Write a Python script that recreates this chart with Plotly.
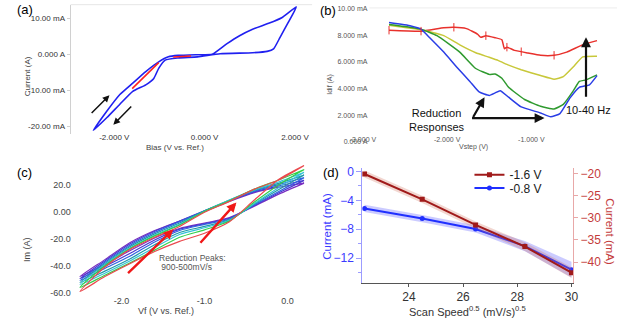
import plotly.graph_objects as go

W, H = 625, 321
def px(x): return x / W
def py(y): return 1 - y / H

FONT = "Liberation Sans, Arial, sans-serif"

# ---------------- panel (a) data: cyclic voltammogram ----------------
a_bias = [0.166, 0.488, 0.774, 1.062, 1.419, 1.708, 2.03, 1.849, 1.671, 1.527, 1.385, 1.062, 0.344,
          -0.157, -0.587, -0.873, -1.017, -1.125, -1.303, -1.591, -1.877, -2.163, -2.465,
          -2.163, -1.877, -1.591, -1.303, -1.017, -0.802, -0.587, -0.157, 0.166]
a_current = [0, 2.9, 5.19, 7.0, 8.63, 10.19, 13.2, 8.83, 4.73, 1.53, 0.82, 0.44, 0.16,
             -0.7, -1.0, -1.6, -3.9, -6.7, -8.5, -10.3, -13.9, -17.6, -21.2,
             -15.8, -11.2, -8.0, -4.8, -2.1, -0.7, -0.3, -0.1, 0]
a_red_bias = [-1.604, -1.31, -1.017, None, -0.695, -0.5, -0.30]
a_red_current = [-9.56, -5.9, -2.3, None, -0.74, -0.6, -0.46]
a_xticks = [-2, 0, 2]
a_xtext = ["-2.000 V", "0.000 V", "2.000 V"]
a_yticks = [10, 0, -10, -20]
a_ytext = ["10.00 mA", "0.000 A", "-10.00 mA", "-20.00 mA"]

# ---------------- panel (b) data: differential current ----------------
b_red_v = [-2.69, -2.31, -2.04, -1.92, -1.77, -1.64, -1.60, -1.54, -1.43, -1.35, -1.32, -1.29, -1.20, -1.04, -0.89, -0.73, -0.58, -0.39, -0.22]
b_red_i = [8.38, 8.31, 8.56, 8.6, 8.5, 8.09, 7.85, 7.97, 7.82, 7.67, 6.99, 7.11, 6.87, 6.67, 6.5, 6.5, 6.74, 7.28, 7.6]
b_red_mark_v = [-2.69, -2.31, -1.92, -1.54, -1.29, -1.12, -0.73]
b_red_mark_i = [8.38, 8.31, 8.6, 7.97, 7.11, 6.77, 6.5]
b_yel_v = [-2.69, -2.31, -2.04, -1.85, -1.66, -1.50, -1.39, -1.27, -1.12, -0.89, -0.73, -0.62, -0.50, -0.39, -0.22]
b_yel_i = [8.75, 8.41, 7.97, 7.28, 6.69, 6.35, 6.1, 5.76, 5.42, 4.98, 4.71, 4.9, 5.64, 6.38, 6.43]
b_grn_v = [-2.69, -2.31, -2.12, -1.85, -1.66, -1.50, -1.43, -1.35, -1.27, -1.08, -0.89, -0.73, -0.62, -0.50, -0.43, -0.35, -0.22]
b_grn_i = [8.8, 8.46, 7.97, 6.74, 5.51, 5.07, 5.1, 4.78, 4.1, 3.19, 2.68, 2.48, 2.82, 3.85, 4.54, 4.66, 5.03]
b_blu_v = [-2.69, -2.43, -2.31, -2.20, -2.04, -1.89, -1.73, -1.62, -1.50, -1.43, -1.37, -1.27, -1.12, -0.89, -0.77, -0.66, -0.54, -0.43, -0.31, -0.22]
b_blu_i = [8.95, 8.7, 8.46, 7.77, 6.74, 5.64, 4.54, 3.75, 3.49, 3.68, 3.85, 3.36, 2.63, 2.18, 1.89, 2.13, 3.31, 4.1, 4.29, 4.98]
b_xticks = [-3, -2, -1, 0]
b_xtext = ["-3.000 V", "-2.000 V", "-1.000 V", "0.000 V"]
b_yticks = [0, 2, 4, 6, 8, 10]
b_ytext = ["0.000 A", "2.000 mA", "4.000 mA", "6.000 mA", "8.000 mA", "10.00 mA"]

# ---------------- panel (c) data: scan-rate CV loops ----------------
c_vf = [-2.5, -2.2, -1.9, -1.6, -1.3, -1.0, -0.7, -0.4, -0.1, 0.2]
c_names = ["purple", "violet", "blue", "teal", "cyan", "green", "red"]
c_colors = ["#7a2fc0", "#4a3ad0", "#2f62e0", "#1f9aa8", "#35c2d8", "#33d04a", "#ea4a4e"]
c_upper = [
    [-48, -35.5, -23, -14, -7, 0, 7.5, 14, 18, 21],
    [-49.5, -36.5, -24, -14.5, -7, 0.5, 8, 14.5, 19, 23],
    [-51, -37.5, -25, -15.5, -7.5, 0.5, 8, 15, 20, 25],
    [-52.5, -38.5, -26, -16.5, -8.5, 0.5, 8.5, 15.5, 21, 27],
    [-54, -39, -27, -17.5, -9.5, 0, 8.5, 16, 22, 29],
    [-56, -40, -27.5, -18, -10, 0, 8, 16.5, 23.5, 31],
    [-59, -41, -28, -19, -11, -0.5, 7.5, 16.5, 23.5, 34],
]
c_lower = [
    [-48, -39, -29, -19.5, -12.5, -8.5, -4.5, 4, 13, 21],
    [-49.5, -40.5, -31, -21, -13, -9, -5, 4.5, 14, 23],
    [-51, -42, -33, -22.5, -14, -9.5, -5.5, 5, 15, 25],
    [-52.5, -44, -35, -24.5, -15.5, -11, -6, 5.5, 16.5, 27],
    [-54, -45.5, -36.5, -26.5, -17, -12, -6.5, 6, 18, 29],
    [-56, -47, -38, -28.5, -19, -13.5, -7, 7, 20, 31],
    [-59, -48, -38.5, -29.5, -22, -16, -7.5, 8.5, 24, 34],
]
c_xticks = [-2, -1, 0]
c_xtext = ["-2.0", "-1.0", "0.0"]
c_yticks = [20, 0, -20, -40, -60]
c_ytext = ["20.0", "0.00", "-20.0", "-40.0", "-60.0"]

# ---------------- panel (d) data: peak current vs sqrt(scan speed) ----------------
d_speed = [22.36, 24.49, 26.46, 28.28, 30.0]
d_cur_08 = [-5.11, -6.52, -7.96, -10.33, -13.59]
d_err_08 = [0.5, 0.5, 0.5, 0.7, 1.1]
d_cur_16 = [-20.07, -25.8, -31.6, -36.5, -42.4]
d_err_16 = [0.8, 0.8, 0.8, 1.0, 1.2]

fig = go.Figure()

# (a)
fig.add_trace(go.Scatter(x=a_bias, y=a_current, mode="lines", xaxis="x", yaxis="y",
                         line=dict(color="#2020f0", width=1.6, shape="spline", smoothing=0.5),
                         showlegend=False, hoverinfo="skip"))
fig.add_trace(go.Scatter(x=a_red_bias, y=a_red_current, mode="lines", xaxis="x", yaxis="y",
                         line=dict(color="#ff2020", width=1.6), showlegend=False, hoverinfo="skip"))

# (b)
for vx, iy, col in [(b_red_v, b_red_i, "#e8312c"), (b_yel_v, b_yel_i, "#c8c83a"),
                    (b_grn_v, b_grn_i, "#2f9a2f"), (b_blu_v, b_blu_i, "#2a3ee6")]:
    fig.add_trace(go.Scatter(x=vx, y=iy, mode="lines", xaxis="x2", yaxis="y2",
                             line=dict(color=col, width=1.5, shape="spline", smoothing=0.4),
                             showlegend=False, hoverinfo="skip"))
fig.add_trace(go.Scatter(x=b_red_mark_v, y=b_red_mark_i, mode="markers", xaxis="x2", yaxis="y2",
                         marker=dict(symbol="line-ns", size=6, line=dict(color="#e8312c", width=1)),
                         showlegend=False, hoverinfo="skip"))

# (c)
for up, lo, col in zip(c_upper, c_lower, c_colors):
    fig.add_trace(go.Scatter(x=c_vf + c_vf[::-1], y=up + lo[::-1], mode="lines", xaxis="x3", yaxis="y3",
                             line=dict(color=col, width=1.2, shape="spline", smoothing=0.7),
                             showlegend=False, hoverinfo="skip"))

# (d) bands and lines
fig.add_trace(go.Scatter(x=d_speed + d_speed[::-1],
                         y=[c + e for c, e in zip(d_cur_08, d_err_08)] + [c - e for c, e in zip(d_cur_08, d_err_08)][::-1],
                         fill="toself", fillcolor="rgba(70,70,255,0.28)", line=dict(width=0),
                         mode="lines", xaxis="x4", yaxis="y4", showlegend=False, hoverinfo="skip"))
fig.add_trace(go.Scatter(x=d_speed, y=d_cur_08, mode="lines+markers", name="-0.8 V", xaxis="x4", yaxis="y4",
                         line=dict(color="#1f2fff", width=2), marker=dict(symbol="circle", size=5, color="#1f2fff"),
                         legend="legend2"))
fig.add_trace(go.Scatter(x=d_speed + d_speed[::-1],
                         y=[c + e for c, e in zip(d_cur_16, d_err_16)] + [c - e for c, e in zip(d_cur_16, d_err_16)][::-1],
                         fill="toself", fillcolor="rgba(210,110,90,0.28)", line=dict(width=0),
                         mode="lines", xaxis="x4", yaxis="y5", showlegend=False, hoverinfo="skip"))
fig.add_trace(go.Scatter(x=d_speed, y=d_cur_16, mode="lines+markers", name="-1.6 V", xaxis="x4", yaxis="y5",
                         line=dict(color="#a01a1a", width=2), marker=dict(symbol="square", size=5, color="#a01a1a"),
                         legend="legend"))

noax = dict(showgrid=False, zeroline=False)

ann = []
def label(text, x, y, size, color="#000", angle=0, xanchor="center", yanchor="middle"):
    ann.append(dict(text=text, x=px(x), y=py(y), xref="paper", yref="paper", showarrow=False,
                    font=dict(size=size, color=color, family=FONT), textangle=angle,
                    xanchor=xanchor, yanchor=yanchor))

def arrow(x0, y0, x1, y1, color, width, size=1.0):
    ann.append(dict(text="", x=px(x1), y=py(y1), xref="paper", yref="paper",
                    ax=x0 - x1, ay=y0 - y1, showarrow=True, arrowhead=2, arrowsize=size,
                    arrowwidth=width, arrowcolor=color))

# panel labels
label("(a)", 2, 7, 13, xanchor="left")
label("(b)", 314, 8, 13, xanchor="left")
label("(c)", 2, 173, 13, xanchor="left")
label("(d)", 317, 173, 13, xanchor="left")

# (a) titles and arrows
label("Bias (V vs. Ref.)", 166.7, 147, 8, "#444")
label("Current (A)", 15, 75, 8, "#444", angle=-90)
arrow(80, 113.3, 99.3, 94, "#111", 1.5, 0.9)
arrow(122.7, 104.3, 103.3, 124, "#111", 1.5, 0.9)

# (b)
label("Idif (A)", 326.7, 83, 7, "#555", angle=-90)
label("Vstep (V)", 474, 146.7, 7, "#555")
label("Reduction<br>Responses", 437, 119, 11, "#111")
label("10-40 Hz", 593, 109, 11, "#111")
arrow(473.3, 117.3, 485.5, 96, "#111", 2.2, 0.9)
arrow(473.3, 117.3, 547.3, 117.3, "#111", 2.2, 0.9)
arrow(590, 96, 590, 35, "#111", 2.2, 0.9)

# (c)
label("Vf (V vs. Ref.)", 158, 314, 9, "#444")
label("Im (A)", 15, 251, 9, "#444", angle=-90)
label("Reduction Peaks:", 148.3, 260, 8.5, "#555", xanchor="left")
label(" 900-500mV/s", 148.3, 269.5, 8.5, "#555", xanchor="left")
arrow(118.3, 276, 165, 230.7, "#f01818", 2.4, 0.8)
arrow(192.7, 245, 230, 203.3, "#f01818", 2.4, 0.8)

# (d)
label("Scan Speed<sup>0.5</sup> (mV/s)<sup>0.5</sup>", 468, 314, 11, "#333")
label("Current (mA)", 323.3, 227, 11.5, "#3b3bff", angle=-90)
label("Current (mA)", 615, 233, 11.5, "#c43b3b", angle=90)

shapes = [
    dict(type="line", xref="paper", yref="paper", x0=px(59.3), x1=px(308), y0=py(1.7), y1=py(1.7),
         line=dict(color="#e6e6e6", width=1)),
    dict(type="line", xref="paper", yref="paper", x0=px(367), x1=px(622), y0=py(5), y1=py(5),
         line=dict(color="#ececec", width=1)),
]

fig.update_layout(
    width=W, height=H, margin=dict(l=0, r=0, t=0, b=0),
    paper_bgcolor="white", plot_bgcolor="white",
    font=dict(family=FONT, color="#333"),
    xaxis=dict(domain=[px(59.3), px(308)], range=[-2.968, 2.381], anchor="free", position=py(130.5),
               tickvals=a_xticks, ticktext=a_xtext, ticks="", showline=False,
               tickfont=dict(size=8, color="#333"), **noax),
    yaxis=dict(domain=[py(133.3), py(1.7)], range=[-22.13, 13.83], anchor="x",
               tickvals=a_yticks, ticktext=a_ytext, ticks="outside", ticklen=3, tickcolor="#d0d0d0",
               showline=True, linecolor="#d0d0d0", tickfont=dict(size=8, color="#333"), **noax),
    xaxis2=dict(domain=[px(360.3), px(620.4)], range=[-3, 0], anchor="free", position=py(134),
                tickvals=b_xticks, ticktext=b_xtext, ticks="", showline=False,
                tickfont=dict(size=7, color="#555"), **noax),
    yaxis2=dict(domain=[py(141.7), py(5)], range=[0, 10.05], anchor="free", position=px(367),
                tickvals=b_yticks, ticktext=b_ytext, ticks="", showline=False, ticklabelstandoff=2,
                tickfont=dict(size=7, color="#555"), **noax),
    xaxis3=dict(domain=[px(66.7), px(300)], range=[-2.526, 0.202], anchor="y3",
                tickvals=c_xticks, ticktext=c_xtext, ticks="", showline=False,
                tickfont=dict(size=9, color="#444"), **noax),
    yaxis3=dict(domain=[py(297), py(165)], range=[-61.2, 34.4], anchor="x3",
                tickvals=c_yticks, ticktext=c_ytext, ticks="", showline=False, ticklabelstandoff=6,
                tickfont=dict(size=9, color="#444"), **noax),
    xaxis4=dict(domain=[px(359.7), px(576.7)], range=[22.28, 30.06], anchor="y4",
                tickvals=[24, 26, 28, 30], ticks="outside", ticklen=3, tickcolor="#555",
                showline=True, linecolor="#555", tickfont=dict(size=12, color="#333"), **noax),
    yaxis4=dict(domain=[py(285), py(168)], range=[-15.39, 0.5], anchor="x4",
                tickvals=[0, -4, -8, -12], ticks="outside", ticklen=5, tickcolor="#9c9cff",
                minor=dict(dtick=2, ticks="outside", ticklen=3, tickcolor="#9c9cff"),
                showline=True, linecolor="#9c9cff", tickfont=dict(size=12, color="#3b3bff"), **noax),
    yaxis5=dict(overlaying="y4", side="right", anchor="x4", range=[-44.67, -18.67],
                tickvals=[-20, -25, -30, -35, -40], ticks="outside", ticklen=4, tickcolor="#e8a8a8",
                showline=True, linecolor="#e8a8a8", tickfont=dict(size=12, color="#c43b3b"), **noax),
    legend=dict(x=px(470), y=py(175), xanchor="left", yanchor="middle", bgcolor="rgba(0,0,0,0)",
                font=dict(size=12, color="#222"), itemwidth=30),
    legend2=dict(x=px(470), y=py(188.5), xanchor="left", yanchor="middle", bgcolor="rgba(0,0,0,0)",
                 font=dict(size=12, color="#222"), itemwidth=30),
    annotations=ann, shapes=shapes,
)

fig.write_html("out.html")
